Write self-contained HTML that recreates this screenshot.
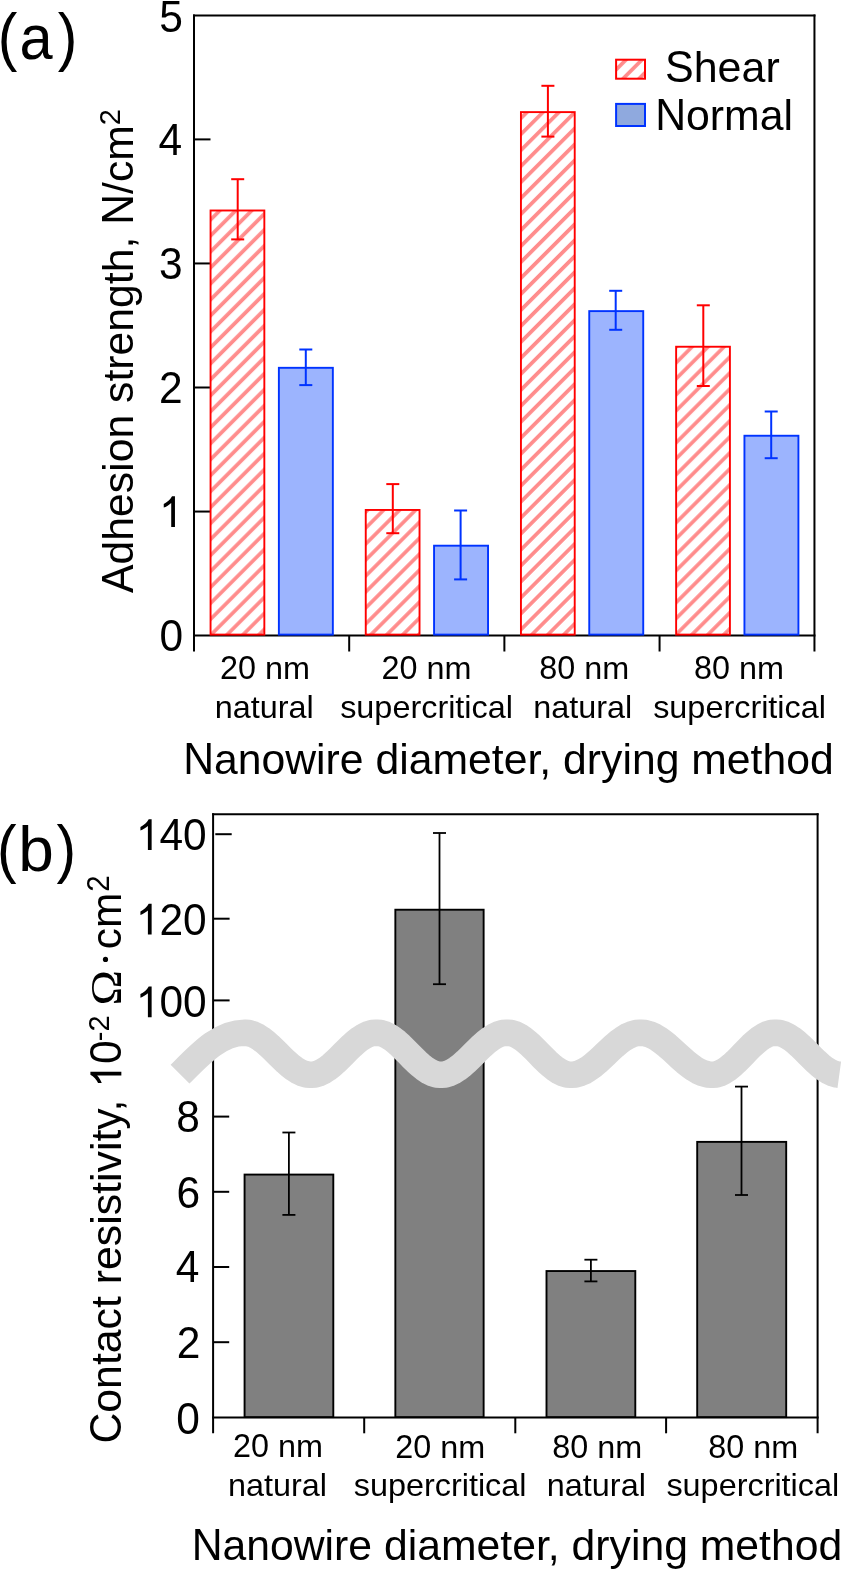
<!DOCTYPE html>
<html><head><meta charset="utf-8"><style>
html,body{margin:0;padding:0;background:#fff;}
svg{display:block;will-change:transform;}
text{fill:#000;}
</style></head><body>
<svg width="841" height="1569" viewBox="0 0 841 1569">
<defs>
<pattern id="hatch0" patternUnits="userSpaceOnUse" width="11.30" height="11.30" patternTransform="rotate(-45 0 0)"><rect x="0" y="0" width="11.30" height="11.30" fill="#fff"/><rect x="0" y="8.645" width="11.30" height="3.7" fill="#ff8c8c"/><rect x="0" y="-2.655" width="11.30" height="3.7" fill="#ff8c8c"/></pattern>
<pattern id="hatch1" patternUnits="userSpaceOnUse" width="11.30" height="11.30" patternTransform="rotate(-45 0 0)"><rect x="0" y="0" width="11.30" height="11.30" fill="#fff"/><rect x="0" y="8.630" width="11.30" height="3.7" fill="#ff8c8c"/><rect x="0" y="-2.670" width="11.30" height="3.7" fill="#ff8c8c"/></pattern>
<pattern id="hatch2" patternUnits="userSpaceOnUse" width="11.30" height="11.30" patternTransform="rotate(-45 0 0)"><rect x="0" y="0" width="11.30" height="11.30" fill="#fff"/><rect x="0" y="9.395" width="11.30" height="3.7" fill="#ff8c8c"/><rect x="0" y="-1.905" width="11.30" height="3.7" fill="#ff8c8c"/></pattern>
<pattern id="hatch3" patternUnits="userSpaceOnUse" width="11.30" height="11.30" patternTransform="rotate(-45 0 0)"><rect x="0" y="0" width="11.30" height="11.30" fill="#fff"/><rect x="0" y="9.610" width="11.30" height="3.7" fill="#ff8c8c"/><rect x="0" y="-1.690" width="11.30" height="3.7" fill="#ff8c8c"/></pattern>
<pattern id="hatchL" patternUnits="userSpaceOnUse" width="11.30" height="11.30" patternTransform="rotate(-45 0 0)"><rect x="0" y="0" width="11.30" height="11.30" fill="#fff"/><rect x="0" y="8.460" width="11.30" height="3.7" fill="#ff8c8c"/><rect x="0" y="-2.840" width="11.30" height="3.7" fill="#ff8c8c"/></pattern>
</defs>
<rect width="841" height="1569" fill="#fff"/>
<line x1="194.00" y1="14.50" x2="194.00" y2="651.50" stroke="#000" stroke-width="2" stroke-linecap="butt"/>
<line x1="814.45" y1="14.50" x2="814.45" y2="651.50" stroke="#000" stroke-width="2" stroke-linecap="butt"/>
<line x1="193.00" y1="15.50" x2="815.45" y2="15.50" stroke="#000" stroke-width="2" stroke-linecap="butt"/>
<line x1="193.00" y1="635.60" x2="815.45" y2="635.60" stroke="#000" stroke-width="2" stroke-linecap="butt"/>
<line x1="349.19" y1="635.60" x2="349.19" y2="651.50" stroke="#000" stroke-width="2" stroke-linecap="butt"/>
<line x1="504.38" y1="635.60" x2="504.38" y2="651.50" stroke="#000" stroke-width="2" stroke-linecap="butt"/>
<line x1="659.57" y1="635.60" x2="659.57" y2="651.50" stroke="#000" stroke-width="2" stroke-linecap="butt"/>
<line x1="194.00" y1="511.55" x2="210.50" y2="511.55" stroke="#000" stroke-width="2" stroke-linecap="butt"/>
<line x1="194.00" y1="387.50" x2="210.50" y2="387.50" stroke="#000" stroke-width="2" stroke-linecap="butt"/>
<line x1="194.00" y1="263.45" x2="210.50" y2="263.45" stroke="#000" stroke-width="2" stroke-linecap="butt"/>
<line x1="194.00" y1="139.40" x2="210.50" y2="139.40" stroke="#000" stroke-width="2" stroke-linecap="butt"/>
<line x1="213.10" y1="813.30" x2="213.10" y2="1433.30" stroke="#000" stroke-width="2" stroke-linecap="butt"/>
<line x1="817.60" y1="813.30" x2="817.60" y2="1433.30" stroke="#000" stroke-width="2" stroke-linecap="butt"/>
<line x1="212.10" y1="814.30" x2="818.60" y2="814.30" stroke="#000" stroke-width="2" stroke-linecap="butt"/>
<line x1="212.10" y1="1417.40" x2="818.60" y2="1417.40" stroke="#000" stroke-width="2" stroke-linecap="butt"/>
<line x1="364.20" y1="1417.40" x2="364.20" y2="1433.30" stroke="#000" stroke-width="2" stroke-linecap="butt"/>
<line x1="515.30" y1="1417.40" x2="515.30" y2="1433.30" stroke="#000" stroke-width="2" stroke-linecap="butt"/>
<line x1="666.10" y1="1417.40" x2="666.10" y2="1433.30" stroke="#000" stroke-width="2" stroke-linecap="butt"/>
<line x1="215.30" y1="834.20" x2="231.70" y2="834.20" stroke="#000" stroke-width="2" stroke-linecap="butt"/>
<line x1="213.10" y1="918.70" x2="229.60" y2="918.70" stroke="#000" stroke-width="2" stroke-linecap="butt"/>
<line x1="213.10" y1="1000.40" x2="229.60" y2="1000.40" stroke="#000" stroke-width="2" stroke-linecap="butt"/>
<line x1="213.10" y1="1116.60" x2="229.20" y2="1116.60" stroke="#000" stroke-width="2" stroke-linecap="butt"/>
<line x1="213.10" y1="1191.80" x2="229.20" y2="1191.80" stroke="#000" stroke-width="2" stroke-linecap="butt"/>
<line x1="213.10" y1="1267.00" x2="229.20" y2="1267.00" stroke="#000" stroke-width="2" stroke-linecap="butt"/>
<line x1="213.10" y1="1342.20" x2="229.20" y2="1342.20" stroke="#000" stroke-width="2" stroke-linecap="butt"/>
<rect x="210.56" y="210.50" width="53.78" height="424.10" fill="url(#hatch0)" stroke="#ff0000" stroke-width="1.9"/>
<rect x="278.87" y="367.81" width="53.98" height="266.79" fill="#9cb4fe" stroke="#0033ff" stroke-width="1.9"/>
<rect x="365.75" y="509.96" width="53.78" height="124.64" fill="url(#hatch1)" stroke="#ff0000" stroke-width="1.9"/>
<rect x="434.06" y="545.69" width="53.98" height="88.91" fill="#9cb4fe" stroke="#0033ff" stroke-width="1.9"/>
<rect x="520.94" y="112.11" width="53.78" height="522.49" fill="url(#hatch2)" stroke="#ff0000" stroke-width="1.9"/>
<rect x="589.25" y="311.12" width="53.98" height="323.48" fill="#9cb4fe" stroke="#0033ff" stroke-width="1.9"/>
<rect x="676.13" y="346.74" width="53.78" height="287.86" fill="url(#hatch3)" stroke="#ff0000" stroke-width="1.9"/>
<rect x="744.44" y="435.74" width="53.98" height="198.86" fill="#9cb4fe" stroke="#0033ff" stroke-width="1.9"/>
<rect x="616.1" y="59.7" width="28.9" height="19" fill="url(#hatchL)" stroke="#ff0000" stroke-width="2"/>
<rect x="616.1" y="103.9" width="28.9" height="22.1" fill="#8fa9de" stroke="#0033ff" stroke-width="2"/>
<rect x="244.57" y="1174.58" width="88.73" height="242.52" fill="#808080" stroke="#000" stroke-width="1.9"/>
<rect x="395.35" y="909.72" width="88.28" height="507.38" fill="#808080" stroke="#000" stroke-width="1.9"/>
<rect x="546.50" y="1271.04" width="88.80" height="146.06" fill="#808080" stroke="#000" stroke-width="1.9"/>
<rect x="697.20" y="1141.88" width="89.00" height="275.22" fill="#808080" stroke="#000" stroke-width="1.9"/>
<line x1="237.70" y1="179.20" x2="237.70" y2="239.40" stroke="#ff0000" stroke-width="2" stroke-linecap="butt"/>
<line x1="231.20" y1="179.20" x2="244.20" y2="179.20" stroke="#ff0000" stroke-width="2" stroke-linecap="butt"/>
<line x1="231.20" y1="239.40" x2="244.20" y2="239.40" stroke="#ff0000" stroke-width="2" stroke-linecap="butt"/>
<line x1="305.80" y1="349.50" x2="305.80" y2="385.10" stroke="#0033ff" stroke-width="2" stroke-linecap="butt"/>
<line x1="299.30" y1="349.50" x2="312.30" y2="349.50" stroke="#0033ff" stroke-width="2" stroke-linecap="butt"/>
<line x1="299.30" y1="385.10" x2="312.30" y2="385.10" stroke="#0033ff" stroke-width="2" stroke-linecap="butt"/>
<line x1="392.80" y1="484.10" x2="392.80" y2="533.20" stroke="#ff0000" stroke-width="2" stroke-linecap="butt"/>
<line x1="386.30" y1="484.10" x2="399.30" y2="484.10" stroke="#ff0000" stroke-width="2" stroke-linecap="butt"/>
<line x1="386.30" y1="533.20" x2="399.30" y2="533.20" stroke="#ff0000" stroke-width="2" stroke-linecap="butt"/>
<line x1="460.60" y1="510.50" x2="460.60" y2="579.40" stroke="#0033ff" stroke-width="2" stroke-linecap="butt"/>
<line x1="454.10" y1="510.50" x2="467.10" y2="510.50" stroke="#0033ff" stroke-width="2" stroke-linecap="butt"/>
<line x1="454.10" y1="579.40" x2="467.10" y2="579.40" stroke="#0033ff" stroke-width="2" stroke-linecap="butt"/>
<line x1="547.90" y1="85.80" x2="547.90" y2="136.60" stroke="#ff0000" stroke-width="2" stroke-linecap="butt"/>
<line x1="541.40" y1="85.80" x2="554.40" y2="85.80" stroke="#ff0000" stroke-width="2" stroke-linecap="butt"/>
<line x1="541.40" y1="136.60" x2="554.40" y2="136.60" stroke="#ff0000" stroke-width="2" stroke-linecap="butt"/>
<line x1="615.70" y1="290.80" x2="615.70" y2="329.80" stroke="#0033ff" stroke-width="2" stroke-linecap="butt"/>
<line x1="609.20" y1="290.80" x2="622.20" y2="290.80" stroke="#0033ff" stroke-width="2" stroke-linecap="butt"/>
<line x1="609.20" y1="329.80" x2="622.20" y2="329.80" stroke="#0033ff" stroke-width="2" stroke-linecap="butt"/>
<line x1="703.30" y1="305.30" x2="703.30" y2="386.00" stroke="#ff0000" stroke-width="2" stroke-linecap="butt"/>
<line x1="696.80" y1="305.30" x2="709.80" y2="305.30" stroke="#ff0000" stroke-width="2" stroke-linecap="butt"/>
<line x1="696.80" y1="386.00" x2="709.80" y2="386.00" stroke="#ff0000" stroke-width="2" stroke-linecap="butt"/>
<line x1="771.20" y1="411.50" x2="771.20" y2="458.20" stroke="#0033ff" stroke-width="2" stroke-linecap="butt"/>
<line x1="764.70" y1="411.50" x2="777.70" y2="411.50" stroke="#0033ff" stroke-width="2" stroke-linecap="butt"/>
<line x1="764.70" y1="458.20" x2="777.70" y2="458.20" stroke="#0033ff" stroke-width="2" stroke-linecap="butt"/>
<line x1="288.90" y1="1132.50" x2="288.90" y2="1214.90" stroke="#000" stroke-width="1.8" stroke-linecap="butt"/>
<line x1="282.40" y1="1132.50" x2="295.40" y2="1132.50" stroke="#000" stroke-width="1.8" stroke-linecap="butt"/>
<line x1="282.40" y1="1214.90" x2="295.40" y2="1214.90" stroke="#000" stroke-width="1.8" stroke-linecap="butt"/>
<line x1="439.50" y1="833.00" x2="439.50" y2="984.20" stroke="#000" stroke-width="1.8" stroke-linecap="butt"/>
<line x1="433.00" y1="833.00" x2="446.00" y2="833.00" stroke="#000" stroke-width="1.8" stroke-linecap="butt"/>
<line x1="433.00" y1="984.20" x2="446.00" y2="984.20" stroke="#000" stroke-width="1.8" stroke-linecap="butt"/>
<line x1="590.90" y1="1259.70" x2="590.90" y2="1281.40" stroke="#000" stroke-width="1.8" stroke-linecap="butt"/>
<line x1="584.40" y1="1259.70" x2="597.40" y2="1259.70" stroke="#000" stroke-width="1.8" stroke-linecap="butt"/>
<line x1="584.40" y1="1281.40" x2="597.40" y2="1281.40" stroke="#000" stroke-width="1.8" stroke-linecap="butt"/>
<line x1="741.50" y1="1086.60" x2="741.50" y2="1195.00" stroke="#000" stroke-width="1.8" stroke-linecap="butt"/>
<line x1="735.00" y1="1086.60" x2="748.00" y2="1086.60" stroke="#000" stroke-width="1.8" stroke-linecap="butt"/>
<line x1="735.00" y1="1195.00" x2="748.00" y2="1195.00" stroke="#000" stroke-width="1.8" stroke-linecap="butt"/>
<circle cx="105.5" cy="959.4" r="2.6" fill="#000"/>
<g font-size="42.5" style='font-family:"Liberation Sans", sans-serif'><text transform="translate(159.22 31.55) scale(1 1.045)">5</text></g>
<g font-size="42.5" style='font-family:"Liberation Sans", sans-serif'><text transform="translate(158.52 154.90) scale(1 1.045)">4</text></g>
<g font-size="42.5" style='font-family:"Liberation Sans", sans-serif'><text transform="translate(159.06 278.95) scale(1 1.045)">3</text></g>
<g font-size="42.5" style='font-family:"Liberation Sans", sans-serif'><text transform="translate(158.93 403.00) scale(1 1.045)">2</text></g>
<g font-size="42.5" style='font-family:"Liberation Sans", sans-serif'><path transform="translate(159.12 527.05) scale(0.02075 -0.02096)" d="M763,0L583,0L583,1147Q518,1085 411,1022Q304,959 223,929L223,1103Q339,1158 450,1253.5Q561,1349 623,1466L763,1466Z"/></g>
<g font-size="42.5" style='font-family:"Liberation Sans", sans-serif'><text transform="translate(159.43 651.10) scale(1 1.045)">0</text></g>
<g font-size="32.4" style='font-family:"Liberation Sans", sans-serif'><text transform="translate(219.93 678.60) scale(1 1.045)">2</text><text transform="translate(237.93 678.60) scale(1 1.045)">0</text><text transform="translate(264.95 678.60) scale(1 0.98)">n</text><text transform="translate(282.96 678.60) scale(1 0.98)">m</text></g>
<g font-size="32.4" style='font-family:"Liberation Sans", sans-serif'><text transform="translate(214.67 717.60) scale(1 0.98)">n</text><text transform="translate(232.67 717.60) scale(1 0.98)">a</text><text transform="translate(250.69 717.60) scale(1 0.98)">t</text><text transform="translate(259.69 717.60) scale(1 0.98)">u</text><text transform="translate(277.70 717.60) scale(1 0.98)">r</text><text transform="translate(288.48 717.60) scale(1 0.98)">a</text><text transform="translate(306.50 717.60) scale(1 0.98)">l</text></g>
<g font-size="32.4" style='font-family:"Liberation Sans", sans-serif'><text transform="translate(381.53 678.60) scale(1 1.045)">2</text><text transform="translate(399.53 678.60) scale(1 1.045)">0</text><text transform="translate(426.55 678.60) scale(1 0.98)">n</text><text transform="translate(444.56 678.60) scale(1 0.98)">m</text></g>
<g font-size="32.4" style='font-family:"Liberation Sans", sans-serif'><text transform="translate(340.16 717.60) scale(1 0.98)">s</text><text transform="translate(356.35 717.60) scale(1 0.98)">u</text><text transform="translate(374.36 717.60) scale(1 0.98)">p</text><text transform="translate(392.38 717.60) scale(1 0.98)">e</text><text transform="translate(410.39 717.60) scale(1 0.98)">r</text><text transform="translate(421.18 717.60) scale(1 0.98)">c</text><text transform="translate(437.38 717.60) scale(1 0.98)">r</text><text transform="translate(448.16 717.60) scale(1 0.98)">i</text><text transform="translate(455.35 717.60) scale(1 0.98)">t</text><text transform="translate(464.35 717.60) scale(1 0.98)">i</text><text transform="translate(471.55 717.60) scale(1 0.98)">c</text><text transform="translate(487.74 717.60) scale(1 0.98)">a</text><text transform="translate(505.75 717.60) scale(1 0.98)">l</text></g>
<g font-size="32.4" style='font-family:"Liberation Sans", sans-serif'><text transform="translate(539.24 678.60) scale(1 1.045)">8</text><text transform="translate(557.24 678.60) scale(1 1.045)">0</text><text transform="translate(584.26 678.60) scale(1 0.98)">n</text><text transform="translate(602.27 678.60) scale(1 0.98)">m</text></g>
<g font-size="32.4" style='font-family:"Liberation Sans", sans-serif'><text transform="translate(533.27 717.60) scale(1 0.98)">n</text><text transform="translate(551.27 717.60) scale(1 0.98)">a</text><text transform="translate(569.29 717.60) scale(1 0.98)">t</text><text transform="translate(578.29 717.60) scale(1 0.98)">u</text><text transform="translate(596.30 717.60) scale(1 0.98)">r</text><text transform="translate(607.08 717.60) scale(1 0.98)">a</text><text transform="translate(625.10 717.60) scale(1 0.98)">l</text></g>
<g font-size="32.4" style='font-family:"Liberation Sans", sans-serif'><text transform="translate(694.09 678.60) scale(1 1.045)">8</text><text transform="translate(712.09 678.60) scale(1 1.045)">0</text><text transform="translate(739.11 678.60) scale(1 0.98)">n</text><text transform="translate(757.12 678.60) scale(1 0.98)">m</text></g>
<g font-size="32.4" style='font-family:"Liberation Sans", sans-serif'><text transform="translate(653.16 717.60) scale(1 0.98)">s</text><text transform="translate(669.35 717.60) scale(1 0.98)">u</text><text transform="translate(687.36 717.60) scale(1 0.98)">p</text><text transform="translate(705.38 717.60) scale(1 0.98)">e</text><text transform="translate(723.39 717.60) scale(1 0.98)">r</text><text transform="translate(734.18 717.60) scale(1 0.98)">c</text><text transform="translate(750.38 717.60) scale(1 0.98)">r</text><text transform="translate(761.16 717.60) scale(1 0.98)">i</text><text transform="translate(768.35 717.60) scale(1 0.98)">t</text><text transform="translate(777.35 717.60) scale(1 0.98)">i</text><text transform="translate(784.55 717.60) scale(1 0.98)">c</text><text transform="translate(800.74 717.60) scale(1 0.98)">a</text><text transform="translate(818.75 717.60) scale(1 0.98)">l</text></g>
<g font-size="42.72" style='font-family:"Liberation Sans", sans-serif'><text transform="translate(183.15 773.70) scale(1 1.045)">N</text><text transform="translate(213.99 773.70) scale(1 0.98)">a</text><text transform="translate(237.74 773.70) scale(1 0.98)">n</text><text transform="translate(261.51 773.70) scale(1 0.98)">o</text><text transform="translate(285.26 773.70) scale(1 0.98)">w</text><text transform="translate(316.12 773.70) scale(1 0.98)">i</text><text transform="translate(325.60 773.70) scale(1 0.98)">r</text><text transform="translate(339.84 773.70) scale(1 0.98)">e</text><text transform="translate(375.46 773.70) scale(1 0.98)">d</text><text transform="translate(399.21 773.70) scale(1 0.98)">i</text><text transform="translate(408.71 773.70) scale(1 0.98)">a</text><text transform="translate(432.46 773.70) scale(1 0.98)">m</text><text transform="translate(468.06 773.70) scale(1 0.98)">e</text><text transform="translate(491.81 773.70) scale(1 0.98)">t</text><text transform="translate(503.68 773.70) scale(1 0.98)">e</text><text transform="translate(527.43 773.70) scale(1 0.98)">r</text><text x="539.31" y="773.70">,</text><text transform="translate(563.04 773.70) scale(1 0.98)">d</text><text transform="translate(586.81 773.70) scale(1 0.98)">r</text><text transform="translate(601.03 773.70) scale(1 0.98)">y</text><text transform="translate(622.38 773.70) scale(1 0.98)">i</text><text transform="translate(631.88 773.70) scale(1 0.98)">n</text><text transform="translate(655.63 773.70) scale(1 0.98)">g</text><text transform="translate(691.26 773.70) scale(1 0.98)">m</text><text transform="translate(726.85 773.70) scale(1 0.98)">e</text><text transform="translate(750.60 773.70) scale(1 0.98)">t</text><text transform="translate(762.48 773.70) scale(1 0.98)">h</text><text transform="translate(786.23 773.70) scale(1 0.98)">o</text><text transform="translate(809.99 773.70) scale(1 0.98)">d</text></g>
<g transform="translate(133.20 592.93) rotate(-90)" font-size="42.72" style='font-family:"Liberation Sans", sans-serif'><text transform="translate(0.00 0.00) scale(1 1.045)">A</text><text transform="translate(28.48 0.00) scale(1 0.98)">d</text><text transform="translate(52.25 0.00) scale(1 0.98)">h</text><text transform="translate(76.00 0.00) scale(1 0.98)">e</text><text transform="translate(99.77 0.00) scale(1 0.98)">s</text><text transform="translate(121.12 0.00) scale(1 0.98)">i</text><text transform="translate(130.61 0.00) scale(1 0.98)">o</text><text transform="translate(154.38 0.00) scale(1 0.98)">n</text><text transform="translate(190.00 0.00) scale(1 0.98)">s</text><text transform="translate(211.36 0.00) scale(1 0.98)">t</text><text transform="translate(223.22 0.00) scale(1 0.98)">r</text><text transform="translate(237.45 0.00) scale(1 0.98)">e</text><text transform="translate(261.20 0.00) scale(1 0.98)">n</text><text transform="translate(284.97 0.00) scale(1 0.98)">g</text><text transform="translate(308.72 0.00) scale(1 0.98)">t</text><text transform="translate(320.59 0.00) scale(1 0.98)">h</text><text x="344.34" y="0.00">,</text><text transform="translate(368.09 0.00) scale(1 1.045)">N</text><text x="398.94" y="0.00">/</text><text transform="translate(410.81 0.00) scale(1 0.98)">c</text><text transform="translate(432.17 0.00) scale(1 0.98)">m</text></g>
<g transform="translate(133.20 592.93) rotate(-90)" font-size="29" style='font-family:"Liberation Sans", sans-serif'><text transform="translate(467.77 -12.80) scale(1 1.045)">2</text></g>
<g font-size="43.0" style='font-family:"Liberation Sans", sans-serif'><text transform="translate(665.00 81.50) scale(1 1.045)">S</text><text transform="translate(693.67 81.50) scale(1 0.98)">h</text><text transform="translate(717.59 81.50) scale(1 0.98)">e</text><text transform="translate(741.50 81.50) scale(1 0.98)">a</text><text transform="translate(765.42 81.50) scale(1 0.98)">r</text></g>
<g font-size="42.8" style='font-family:"Liberation Sans", sans-serif'><text transform="translate(655.14 129.70) scale(1 1.045)">N</text><text transform="translate(686.05 129.70) scale(1 0.98)">o</text><text transform="translate(709.84 129.70) scale(1 0.98)">r</text><text transform="translate(724.09 129.70) scale(1 0.98)">m</text><text transform="translate(759.75 129.70) scale(1 0.98)">a</text><text transform="translate(783.55 129.70) scale(1 0.98)">l</text></g>
<g font-size="64" style='font-family:"Liberation Sans", sans-serif'><text transform="translate(-2.22 58.60) scale(0.92 1.0)">(</text><text transform="translate(19.39 58.60) scale(0.93 0.98)">a</text><text transform="translate(57.69 58.60) scale(0.92 1.0)">)</text></g>
<g font-size="64" style='font-family:"Liberation Sans", sans-serif'><text transform="translate(-3.02 870.70) scale(0.92 1.0)">(</text><text transform="translate(18.29 870.70) scale(1 0.98)">b</text><text transform="translate(56.49 870.70) scale(0.92 1.0)">)</text></g>
<g font-size="42.5" style='font-family:"Liberation Sans", sans-serif'><path transform="translate(135.80 850.00) scale(0.02075 -0.02096)" d="M763,0L583,0L583,1147Q518,1085 411,1022Q304,959 223,929L223,1103Q339,1158 450,1253.5Q561,1349 623,1466L763,1466Z"/><text transform="translate(159.43 850.00) scale(1 1.045)">4</text><text transform="translate(183.07 850.00) scale(1 1.045)">0</text></g>
<g font-size="42.5" style='font-family:"Liberation Sans", sans-serif'><path transform="translate(135.80 934.50) scale(0.02075 -0.02096)" d="M763,0L583,0L583,1147Q518,1085 411,1022Q304,959 223,929L223,1103Q339,1158 450,1253.5Q561,1349 623,1466L763,1466Z"/><text transform="translate(159.43 934.50) scale(1 1.045)">2</text><text transform="translate(183.07 934.50) scale(1 1.045)">0</text></g>
<g font-size="42.5" style='font-family:"Liberation Sans", sans-serif'><path transform="translate(135.80 1017.20) scale(0.02075 -0.02096)" d="M763,0L583,0L583,1147Q518,1085 411,1022Q304,959 223,929L223,1103Q339,1158 450,1253.5Q561,1349 623,1466L763,1466Z"/><text transform="translate(159.43 1017.20) scale(1 1.045)">0</text><text transform="translate(183.07 1017.20) scale(1 1.045)">0</text></g>
<g font-size="42.5" style='font-family:"Liberation Sans", sans-serif'><text transform="translate(176.36 1132.20) scale(1 1.045)">8</text></g>
<g font-size="42.5" style='font-family:"Liberation Sans", sans-serif'><text transform="translate(176.38 1208.20) scale(1 1.045)">6</text></g>
<g font-size="42.5" style='font-family:"Liberation Sans", sans-serif'><text transform="translate(175.76 1282.20) scale(1 1.045)">4</text></g>
<g font-size="42.5" style='font-family:"Liberation Sans", sans-serif'><text transform="translate(176.65 1357.80) scale(1 1.045)">2</text></g>
<g font-size="42.5" style='font-family:"Liberation Sans", sans-serif'><text transform="translate(176.17 1434.00) scale(1 1.045)">0</text></g>
<g font-size="32.4" style='font-family:"Liberation Sans", sans-serif'><text transform="translate(233.03 1457.30) scale(1 1.045)">2</text><text transform="translate(251.03 1457.30) scale(1 1.045)">0</text><text transform="translate(278.05 1457.30) scale(1 0.98)">n</text><text transform="translate(296.06 1457.30) scale(1 0.98)">m</text></g>
<g font-size="32.4" style='font-family:"Liberation Sans", sans-serif'><text transform="translate(227.92 1495.90) scale(1 0.98)">n</text><text transform="translate(245.92 1495.90) scale(1 0.98)">a</text><text transform="translate(263.94 1495.90) scale(1 0.98)">t</text><text transform="translate(272.94 1495.90) scale(1 0.98)">u</text><text transform="translate(290.95 1495.90) scale(1 0.98)">r</text><text transform="translate(301.73 1495.90) scale(1 0.98)">a</text><text transform="translate(319.75 1495.90) scale(1 0.98)">l</text></g>
<g font-size="32.4" style='font-family:"Liberation Sans", sans-serif'><text transform="translate(395.13 1457.50) scale(1 1.045)">2</text><text transform="translate(413.13 1457.50) scale(1 1.045)">0</text><text transform="translate(440.15 1457.50) scale(1 0.98)">n</text><text transform="translate(458.16 1457.50) scale(1 0.98)">m</text></g>
<g font-size="32.4" style='font-family:"Liberation Sans", sans-serif'><text transform="translate(353.71 1495.90) scale(1 0.98)">s</text><text transform="translate(369.90 1495.90) scale(1 0.98)">u</text><text transform="translate(387.91 1495.90) scale(1 0.98)">p</text><text transform="translate(405.93 1495.90) scale(1 0.98)">e</text><text transform="translate(423.94 1495.90) scale(1 0.98)">r</text><text transform="translate(434.73 1495.90) scale(1 0.98)">c</text><text transform="translate(450.93 1495.90) scale(1 0.98)">r</text><text transform="translate(461.71 1495.90) scale(1 0.98)">i</text><text transform="translate(468.90 1495.90) scale(1 0.98)">t</text><text transform="translate(477.90 1495.90) scale(1 0.98)">i</text><text transform="translate(485.10 1495.90) scale(1 0.98)">c</text><text transform="translate(501.29 1495.90) scale(1 0.98)">a</text><text transform="translate(519.30 1495.90) scale(1 0.98)">l</text></g>
<g font-size="32.4" style='font-family:"Liberation Sans", sans-serif'><text transform="translate(552.24 1457.50) scale(1 1.045)">8</text><text transform="translate(570.24 1457.50) scale(1 1.045)">0</text><text transform="translate(597.26 1457.50) scale(1 0.98)">n</text><text transform="translate(615.27 1457.50) scale(1 0.98)">m</text></g>
<g font-size="32.4" style='font-family:"Liberation Sans", sans-serif'><text transform="translate(546.82 1495.90) scale(1 0.98)">n</text><text transform="translate(564.82 1495.90) scale(1 0.98)">a</text><text transform="translate(582.84 1495.90) scale(1 0.98)">t</text><text transform="translate(591.84 1495.90) scale(1 0.98)">u</text><text transform="translate(609.85 1495.90) scale(1 0.98)">r</text><text transform="translate(620.63 1495.90) scale(1 0.98)">a</text><text transform="translate(638.65 1495.90) scale(1 0.98)">l</text></g>
<g font-size="32.4" style='font-family:"Liberation Sans", sans-serif'><text transform="translate(708.14 1457.50) scale(1 1.045)">8</text><text transform="translate(726.14 1457.50) scale(1 1.045)">0</text><text transform="translate(753.16 1457.50) scale(1 0.98)">n</text><text transform="translate(771.17 1457.50) scale(1 0.98)">m</text></g>
<g font-size="32.4" style='font-family:"Liberation Sans", sans-serif'><text transform="translate(666.41 1495.90) scale(1 0.98)">s</text><text transform="translate(682.60 1495.90) scale(1 0.98)">u</text><text transform="translate(700.61 1495.90) scale(1 0.98)">p</text><text transform="translate(718.63 1495.90) scale(1 0.98)">e</text><text transform="translate(736.64 1495.90) scale(1 0.98)">r</text><text transform="translate(747.43 1495.90) scale(1 0.98)">c</text><text transform="translate(763.63 1495.90) scale(1 0.98)">r</text><text transform="translate(774.41 1495.90) scale(1 0.98)">i</text><text transform="translate(781.60 1495.90) scale(1 0.98)">t</text><text transform="translate(790.60 1495.90) scale(1 0.98)">i</text><text transform="translate(797.80 1495.90) scale(1 0.98)">c</text><text transform="translate(813.99 1495.90) scale(1 0.98)">a</text><text transform="translate(832.00 1495.90) scale(1 0.98)">l</text></g>
<g font-size="42.72" style='font-family:"Liberation Sans", sans-serif'><text transform="translate(191.65 1559.90) scale(1 1.045)">N</text><text transform="translate(222.49 1559.90) scale(1 0.98)">a</text><text transform="translate(246.24 1559.90) scale(1 0.98)">n</text><text transform="translate(270.01 1559.90) scale(1 0.98)">o</text><text transform="translate(293.76 1559.90) scale(1 0.98)">w</text><text transform="translate(324.62 1559.90) scale(1 0.98)">i</text><text transform="translate(334.10 1559.90) scale(1 0.98)">r</text><text transform="translate(348.34 1559.90) scale(1 0.98)">e</text><text transform="translate(383.96 1559.90) scale(1 0.98)">d</text><text transform="translate(407.71 1559.90) scale(1 0.98)">i</text><text transform="translate(417.21 1559.90) scale(1 0.98)">a</text><text transform="translate(440.96 1559.90) scale(1 0.98)">m</text><text transform="translate(476.56 1559.90) scale(1 0.98)">e</text><text transform="translate(500.31 1559.90) scale(1 0.98)">t</text><text transform="translate(512.18 1559.90) scale(1 0.98)">e</text><text transform="translate(535.93 1559.90) scale(1 0.98)">r</text><text x="547.81" y="1559.90">,</text><text transform="translate(571.54 1559.90) scale(1 0.98)">d</text><text transform="translate(595.31 1559.90) scale(1 0.98)">r</text><text transform="translate(609.53 1559.90) scale(1 0.98)">y</text><text transform="translate(630.88 1559.90) scale(1 0.98)">i</text><text transform="translate(640.38 1559.90) scale(1 0.98)">n</text><text transform="translate(664.13 1559.90) scale(1 0.98)">g</text><text transform="translate(699.76 1559.90) scale(1 0.98)">m</text><text transform="translate(735.35 1559.90) scale(1 0.98)">e</text><text transform="translate(759.10 1559.90) scale(1 0.98)">t</text><text transform="translate(770.98 1559.90) scale(1 0.98)">h</text><text transform="translate(794.73 1559.90) scale(1 0.98)">o</text><text transform="translate(818.49 1559.90) scale(1 0.98)">d</text></g>
<g transform="translate(121.35 1443.62) rotate(-90)" font-size="42.8" style='font-family:"Liberation Sans", sans-serif'><text transform="translate(0.00 0.00) scale(1 1.045)">C</text><text transform="translate(30.91 0.00) scale(1 0.98)">o</text><text transform="translate(54.70 0.00) scale(1 0.98)">n</text><text transform="translate(78.50 0.00) scale(1 0.98)">t</text><text transform="translate(90.39 0.00) scale(1 0.98)">a</text><text transform="translate(114.19 0.00) scale(1 0.98)">c</text><text transform="translate(135.59 0.00) scale(1 0.98)">t</text><text transform="translate(159.38 0.00) scale(1 0.98)">r</text><text transform="translate(173.62 0.00) scale(1 0.98)">e</text><text transform="translate(197.42 0.00) scale(1 0.98)">s</text><text transform="translate(218.83 0.00) scale(1 0.98)">i</text><text transform="translate(228.33 0.00) scale(1 0.98)">s</text><text transform="translate(249.73 0.00) scale(1 0.98)">t</text><text transform="translate(261.62 0.00) scale(1 0.98)">i</text><text transform="translate(271.12 0.00) scale(1 0.98)">v</text><text transform="translate(292.53 0.00) scale(1 0.98)">i</text><text transform="translate(302.03 0.00) scale(1 0.98)">t</text><text transform="translate(313.92 0.00) scale(1 0.98)">y</text><text x="332.16" y="0.00">,</text><path transform="translate(355.92 0.00) scale(0.02090 -0.02111)" d="M763,0L583,0L583,1147Q518,1085 411,1022Q304,959 223,929L223,1103Q339,1158 450,1253.5Q561,1349 623,1466L763,1466Z"/><text transform="translate(379.73 0.00) scale(1 1.045)">0</text></g>
<g transform="translate(108.60 1041.24) rotate(-90)" font-size="29" style='font-family:"Liberation Sans", sans-serif'><text x="0.00" y="0.00">-</text><text transform="translate(9.66 0.00) scale(1 1.045)">2</text></g>
<g transform="translate(121.20 1005.43) rotate(-90) scale(1.075 1)"><text x="0.00" y="0.00" font-size="44.5" style='font-family:"Liberation Serif", serif'>Ω</text></g>
<g transform="translate(121.20 949.36) rotate(-90)" font-size="42.5" style='font-family:"Liberation Sans", sans-serif'><text transform="translate(0.00 0.00) scale(1 0.98)">c</text><text transform="translate(21.25 0.00) scale(1 0.98)">m</text></g>
<g transform="translate(108.50 891.83) rotate(-90)" font-size="29.5" style='font-family:"Liberation Sans", sans-serif'><text transform="translate(0.00 0.00) scale(1 1.045)">2</text></g>
<path d="M180.0,1074.2 C200.0,1054.2 219.5,1032.7 244.5,1032.7 L248.64,1033.10 L252.79,1034.30 L256.93,1036.25 L261.07,1038.87 L265.22,1042.06 L269.36,1045.69 L273.51,1049.64 L277.65,1053.75 L281.79,1057.86 L285.94,1061.81 L290.08,1065.44 L294.23,1068.63 L298.37,1071.25 L302.51,1073.20 L306.66,1074.40 L310.80,1074.80 L314.90,1074.40 L319.00,1073.20 L323.10,1071.25 L327.20,1068.63 L331.30,1065.44 L335.40,1061.81 L339.50,1057.86 L343.60,1053.75 L347.70,1049.64 L351.80,1045.69 L355.90,1042.06 L360.00,1038.87 L364.10,1036.25 L368.20,1034.30 L372.30,1033.10 L376.40,1032.70 L380.43,1033.10 L384.46,1034.30 L388.49,1036.25 L392.52,1038.87 L396.56,1042.06 L400.59,1045.69 L404.62,1049.64 L408.65,1053.75 L412.68,1057.86 L416.71,1061.81 L420.74,1065.44 L424.77,1068.63 L428.81,1071.25 L432.84,1073.20 L436.87,1074.40 L440.90,1074.80 L445.03,1074.40 L449.16,1073.20 L453.29,1071.25 L457.42,1068.63 L461.56,1065.44 L465.69,1061.81 L469.82,1057.86 L473.95,1053.75 L478.08,1049.64 L482.21,1045.69 L486.34,1042.06 L490.48,1038.87 L494.61,1036.25 L498.74,1034.30 L502.87,1033.10 L507.00,1032.70 L511.01,1033.10 L515.02,1034.30 L519.04,1036.25 L523.05,1038.87 L527.06,1042.06 L531.08,1045.69 L535.09,1049.64 L539.10,1053.75 L543.11,1057.86 L547.12,1061.81 L551.14,1065.44 L555.15,1068.63 L559.16,1071.25 L563.18,1073.20 L567.19,1074.40 L571.20,1074.80 L575.53,1074.40 L579.86,1073.20 L584.19,1071.25 L588.53,1068.63 L592.86,1065.44 L597.19,1061.81 L601.52,1057.86 L605.85,1053.75 L610.18,1049.64 L614.51,1045.69 L618.84,1042.06 L623.17,1038.87 L627.51,1036.25 L631.84,1034.30 L636.17,1033.10 L640.50,1032.70 L644.97,1033.10 L649.44,1034.30 L653.91,1036.25 L658.38,1038.87 L662.84,1042.06 L667.31,1045.69 L671.78,1049.64 L676.25,1053.75 L680.72,1057.86 L685.19,1061.81 L689.66,1065.44 L694.12,1068.63 L698.59,1071.25 L703.06,1073.20 L707.53,1074.40 L712.00,1074.80 L715.96,1074.40 L719.92,1073.20 L723.89,1071.25 L727.85,1068.63 L731.81,1065.44 L735.77,1061.81 L739.74,1057.86 L743.70,1053.75 L747.66,1049.64 L751.62,1045.69 L755.59,1042.06 L759.55,1038.87 L763.51,1036.25 L767.48,1034.30 L771.44,1033.10 L775.40,1032.70 L779.50,1033.10 L783.60,1034.30 L787.70,1036.25 L791.80,1038.87 L795.90,1042.06 L800.00,1045.69 L804.10,1049.64 L808.20,1053.75 L812.30,1057.86 L816.40,1061.81 L820.50,1065.44 L824.60,1068.63 L828.70,1071.25 L832.80,1073.20 L836.90,1074.40 L839.30,1074.73" fill="none" stroke="#d8d8d8" stroke-width="26.6" stroke-linejoin="round" stroke-linecap="butt"/>
</svg>
</body></html>
